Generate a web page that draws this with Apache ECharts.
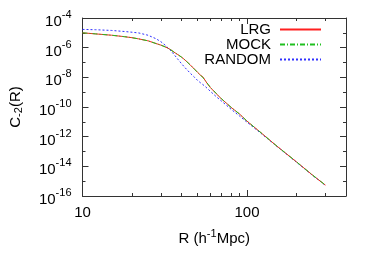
<!DOCTYPE html>
<html><head><meta charset="utf-8">
<script src="https://cdn.jsdelivr.net/npm/echarts@6/dist/echarts.min.js"></script>
<style>html,body{margin:0;padding:0;background:#fff}#c{width:374px;height:262px}</style>
</head><body><div id="c"></div>
<script>
// R in h^-1 Mpc
const R = [10,12,15,18,20,22,25,28,30,32,34,36,38,40,42,45,48,50,52,54,55,56,58,60,65,70,75,80,90,100,120,150,200,250,300];
const LRG = [1.0e-5,8.5e-6,6.9e-6,5.5e-6,4.7e-6,3.9e-6,2.9e-6,1.9e-6,1.48e-6,1.1e-6,7.9e-7,5.0e-7,3.4e-7,2.3e-7,1.48e-7,7.2e-8,3.5e-8,2.2e-8,1.45e-8,1.05e-8,9.3e-9,5.6e-9,3.2e-9,2.0e-9,7.9e-10,3.5e-10,1.8e-10,9.5e-11,3.4e-11,1.12e-11,2.1e-12,2.6e-13,2.0e-14,2.6e-15,5.4e-16];
const MOCK = [1.0e-5,8.5e-6,6.9e-6,5.5e-6,4.7e-6,3.9e-6,2.9e-6,1.9e-6,1.48e-6,1.1e-6,7.9e-7,5.0e-7,3.4e-7,2.3e-7,1.48e-7,7.2e-8,3.5e-8,2.2e-8,1.45e-8,9.5e-9,7.6e-9,5.9e-9,3.4e-9,2.1e-9,8.3e-10,3.6e-10,1.8e-10,9.5e-11,3.4e-11,1.12e-11,2.1e-12,2.6e-13,2.0e-14,2.6e-15,5.4e-16];
const RANDOM = [1.7e-5,1.62e-5,1.45e-5,1.23e-5,1.1e-5,9.8e-6,6.9e-6,4.0e-6,2.5e-6,1.4e-6,7.2e-7,3.5e-7,1.66e-7,8.3e-8,4.5e-8,2.0e-8,1.0e-8,6.3e-9,4.4e-9,3.2e-9,2.7e-9,2.3e-9,1.6e-9,1.12e-9,5.0e-10,2.5e-10,1.32e-10,7.1e-11,2.5e-11,9.5e-12,1.9e-12,2.5e-13,1.9e-14,2.5e-15,5.2e-16];
const xMajor = [10,100];
const xMinor = [20,30,40,50,60,70,80,90,200,300,400];
const yMajor = [1e-16,1e-14,1e-12,1e-10,1e-8,1e-6,1e-4];
const yMinor = [1e-15,1e-13,1e-11,1e-9,1e-7,1e-5];

const FONT = 'Liberation Sans, Arial, sans-serif';
const AX = '#333';
const chart = echarts.init(document.getElementById('c'), null, {renderer:'canvas'});
const supRich = {
  b:{fontSize:15,fontFamily:FONT,color:'#000',padding:[8,0,0,0]},
  s:{fontSize:11,fontFamily:FONT,color:'#000',padding:[0,0,6,0]}
};
function xAx(pos, major, show){
  return {type:'log',logBase:10,min:10,max:400,position:pos,
    axisLine:{show:show,onZero:false,lineStyle:{color:AX,width:1}},
    axisTick:{show:true,inside:true,length:major?6:3,customValues:major?xMajor:xMinor,lineStyle:{color:AX}},
    axisLabel:{show:false},splitLine:{show:false},minorTick:{show:false}};
}
function yAx(pos, major, show){
  return {type:'log',logBase:10,min:1e-16,max:1e-4,position:pos,
    axisLine:{show:show,onZero:false,lineStyle:{color:AX,width:1}},
    axisTick:{show:true,inside:true,length:major?6:3,customValues:major?yMajor:yMinor,lineStyle:{color:AX}},
    axisLabel:{show:false},splitLine:{show:false},minorTick:{show:false}};
}
const xb = xAx('bottom', true, true);
xb.axisLabel = {show:true,customValues:xMajor,fontSize:15,fontFamily:FONT,color:'#000',margin:9};
xb.name = '{n|R (h}{s|-1}{n|Mpc)}';
xb.nameLocation = 'middle';
xb.nameGap = 30;
xb.nameTextStyle = {rich:{n:{fontSize:15,fontFamily:FONT,color:'#000',padding:[5,0,0,0]},s:{fontSize:11,fontFamily:FONT,color:'#000',padding:[0,0,5,0]}}};
const yl = yAx('left', true, true);
yl.axisLabel = {show:true,customValues:yMajor,margin:11,
  formatter:v=>'{b|10}{s|'+Math.round(Math.log10(v))+'}',rich:supRich};
yl.name = '{n|C}{u|-2}{n|(R)}';
yl.nameLocation = 'middle';
yl.nameRotate = 90;
yl.nameGap = 58;
yl.nameTextStyle = {rich:{n:{fontSize:15,fontFamily:FONT,color:'#000'},u:{fontSize:11,fontFamily:FONT,color:'#000',padding:[7,0,0,0]}}};

const option = {
  animation:false,
  backgroundColor:'#fff',
  grid:{left:77,right:28,top:18,bottom:66,containLabel:false},
  legend:{orient:'vertical',right:47,top:17,align:'right',itemWidth:41,itemHeight:10,itemGap:0,
    itemStyle:{opacity:0},
    textStyle:{fontSize:15,fontFamily:FONT,color:'#000',padding:[0,4,0,0]},
    data:['LRG','MOCK','RANDOM']},
  xAxis:[xb, xAx('bottom',false,false), xAx('top',true,true), xAx('top',false,false)],
  yAxis:[yl, yAx('left',false,false), yAx('right',true,true), yAx('right',false,false)],
  series:[
    {name:'LRG',type:'line',data:R.map((r,i)=>[r,LRG[i]]),showSymbol:false,symbol:'none',
      lineStyle:{color:'#ff2020',width:1},itemStyle:{color:'#ff2020'},z:3},
    {name:'MOCK',type:'line',data:R.map((r,i)=>[r,MOCK[i]]),showSymbol:false,symbol:'none',
      lineStyle:{color:'#20c020',width:1,type:[5,2,1,2]},itemStyle:{color:'#20c020'},z:4},
    {name:'RANDOM',type:'line',data:R.map((r,i)=>[r,RANDOM[i]]),showSymbol:false,symbol:'none',
      lineStyle:{color:'#3030ff',width:1,type:[2,2]},itemStyle:{color:'#3030ff'},z:2}
  ]
};
chart.setOption(option);
</script>
</body></html>
